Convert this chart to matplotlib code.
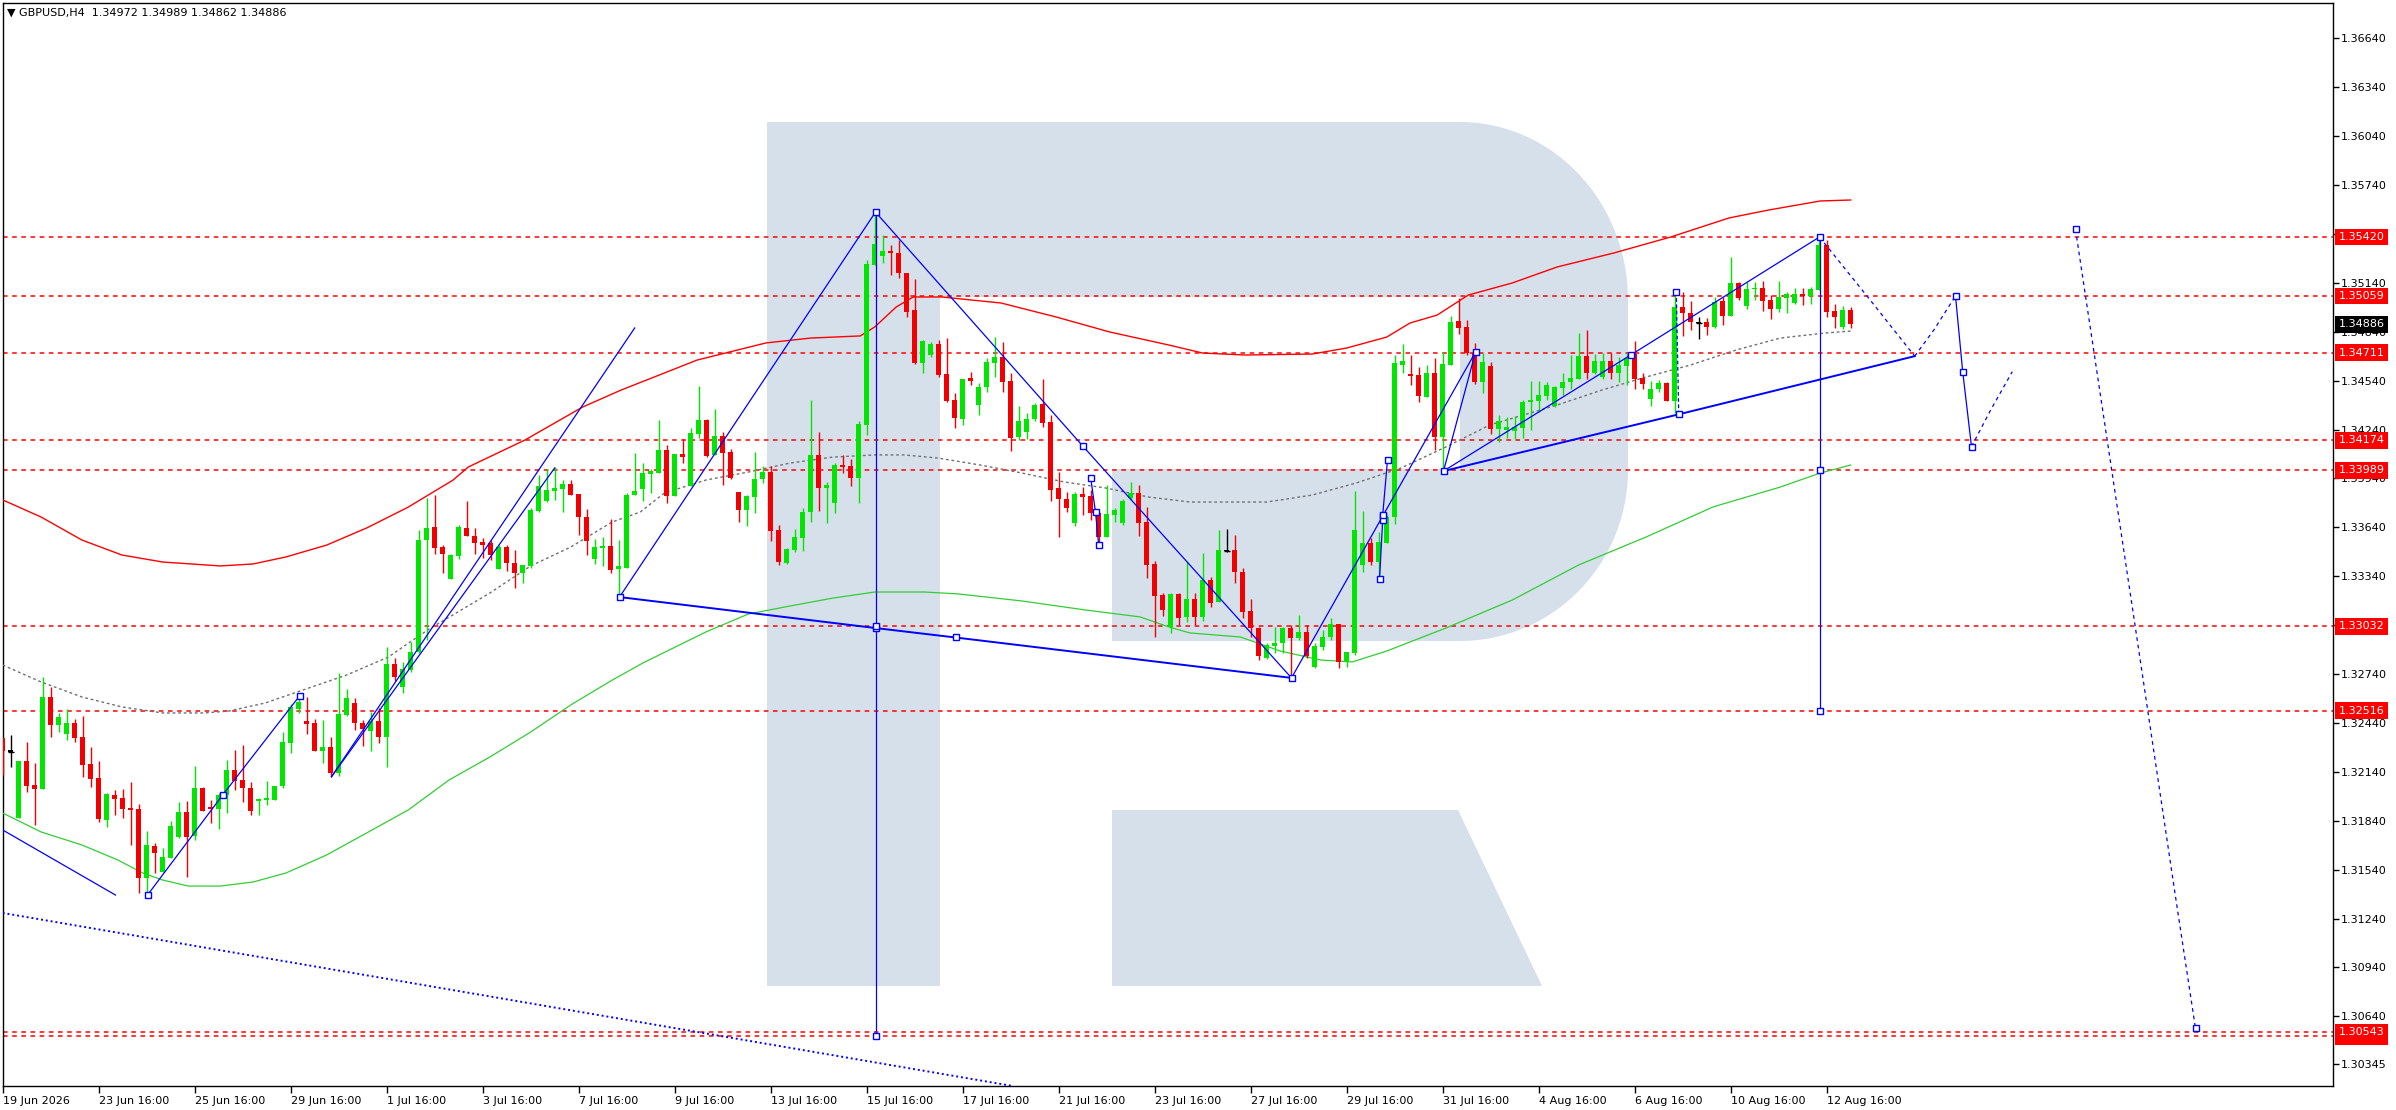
import matplotlib
matplotlib.use('Agg')

import numpy as np
import matplotlib.pyplot as plt
from matplotlib.patches import Polygon

plt.rcParams['font.family'] = ['DejaVu Sans']

# ---------------- candles (H4, one per index) ----------------
opens = [
    1.32345, 1.32264, 1.31859, 1.32206, 1.32059, 1.32034, 1.32597, 1.32427, 1.32372, 1.32437,
    1.32352, 1.32186, 1.32100, 1.31844, 1.31998, 1.31977, 1.31916, 1.31910, 1.31486, 1.31685,
    1.31527, 1.31609, 1.31742, 1.31893, 1.31746, 1.32041, 1.31922, 1.31912, 1.31998, 1.32151,
    1.32090, 1.32039, 1.31963, 1.31967, 1.31967, 1.32055, 1.32317, 1.32525, 1.32452, 1.32437,
    1.32270, 1.32290, 1.32135, 1.32489, 1.32560, 1.32437, 1.32392, 1.32454, 1.32352, 1.32801,
    1.32658, 1.32765, 1.32877, 1.33562, 1.33640, 1.33521, 1.33323, 1.33464, 1.33634, 1.33587,
    1.33552, 1.33542, 1.33384, 1.33521, 1.33419, 1.33358, 1.33403, 1.33740, 1.33803, 1.33863,
    1.33875, 1.33906, 1.33844, 1.33703, 1.33446, 1.33513, 1.33525, 1.33384, 1.33390, 1.33838,
    1.33875, 1.33967, 1.33973, 1.34114, 1.33832, 1.34090, 1.33893, 1.34212, 1.34298, 1.34083,
    1.34200, 1.34102, 1.33857, 1.33746, 1.33826, 1.33936, 1.33979, 1.33623, 1.33421, 1.33501,
    1.33574, 1.33734, 1.34084, 1.33881, 1.33789, 1.34022, 1.34016, 1.33942, 1.34268, 1.35249,
    1.35306, 1.35335, 1.35323, 1.35200, 1.34973, 1.34648, 1.34697, 1.34764, 1.34581, 1.34421,
    1.34304, 1.34556, 1.34390, 1.34501, 1.34648, 1.34685, 1.34538, 1.34194, 1.34225, 1.34304,
    1.34396, 1.34286, 1.33881, 1.33814, 1.33666, 1.33844, 1.33832, 1.33728, 1.33581, 1.33715,
    1.33666, 1.33820, 1.33850, 1.33673, 1.33415, 1.33225, 1.33028, 1.33231, 1.33090, 1.33200,
    1.33090, 1.33317, 1.33182, 1.33495, 1.33501, 1.33366, 1.33127, 1.33022, 1.32838, 1.32912,
    1.32930, 1.33022, 1.32961, 1.32998, 1.32783, 1.32906, 1.32967, 1.33047, 1.32820, 1.32869,
    1.33409, 1.33544, 1.33427, 1.33544, 1.33703, 1.34636, 1.34581, 1.34574, 1.34439, 1.34587,
    1.34194, 1.34636, 1.34906, 1.34869, 1.34709, 1.34531, 1.34630, 1.34243, 1.34237, 1.34231,
    1.34249, 1.34409, 1.34415, 1.34446, 1.34384, 1.34494, 1.34531, 1.34550, 1.34691, 1.34587,
    1.34562, 1.34660, 1.34587, 1.34630, 1.34703, 1.34556, 1.34427, 1.34489, 1.34525, 1.34415,
    1.34992, 1.34955, 1.34893, 1.34900, 1.34869, 1.35028, 1.34936, 1.35139, 1.34998, 1.35102,
    1.35108, 1.35034, 1.34979, 1.35047, 1.35016, 1.35071, 1.35059, 1.35096, 1.35372, 1.34967,
    1.34869, 1.34972]

highs = [
    1.32350, 1.32366, 1.32206, 1.32321, 1.32192, 1.32719, 1.32662, 1.32499, 1.32523, 1.32464,
    1.32482, 1.32294, 1.32206, 1.32012, 1.32028, 1.32032, 1.32077, 1.31942, 1.31779, 1.31701,
    1.31670, 1.31840, 1.31955, 1.31963, 1.32176, 1.32049, 1.31967, 1.32008, 1.32212, 1.32274,
    1.32304, 1.32080, 1.31977, 1.32084, 1.32053, 1.32386, 1.32556, 1.32605, 1.32601, 1.32462,
    1.32458, 1.32356, 1.32748, 1.32646, 1.32590, 1.32458, 1.32509, 1.32533, 1.32904, 1.32836,
    1.32816, 1.32938, 1.33623, 1.33818, 1.33838, 1.33531, 1.33476, 1.33654, 1.33801, 1.33634,
    1.33572, 1.33562, 1.33531, 1.33531, 1.33501, 1.33409, 1.33756, 1.33961, 1.33998, 1.34010,
    1.33930, 1.33930, 1.33844, 1.33752, 1.33568, 1.33580, 1.33691, 1.33562, 1.33850, 1.34096,
    1.34034, 1.33998, 1.34298, 1.34145, 1.34090, 1.34182, 1.34249, 1.34507, 1.34304, 1.34366,
    1.34225, 1.34120, 1.33857, 1.33838, 1.34102, 1.34016, 1.34016, 1.33654, 1.33513, 1.33630,
    1.33758, 1.34421, 1.34225, 1.33918, 1.34034, 1.34084, 1.34059, 1.34292, 1.35280, 1.35570,
    1.35433, 1.35372, 1.35403, 1.35200, 1.35163, 1.34789, 1.34777, 1.34789, 1.34801, 1.34464,
    1.34550, 1.34593, 1.34525, 1.34679, 1.34807, 1.34777, 1.34587, 1.34384, 1.34341, 1.34403,
    1.34550, 1.34329, 1.33979, 1.33857, 1.33857, 1.33887, 1.33869, 1.33734, 1.33900, 1.33758,
    1.33814, 1.33918, 1.33900, 1.33764, 1.33434, 1.33237, 1.33237, 1.33237, 1.33434, 1.33237,
    1.33482, 1.33335, 1.33624, 1.33630, 1.33593, 1.33390, 1.33200, 1.33028, 1.32930, 1.33028,
    1.33028, 1.33041, 1.33102, 1.33041, 1.32930, 1.33010, 1.33084, 1.33047, 1.32875, 1.33863,
    1.33740, 1.33575, 1.33611, 1.33715, 1.34697, 1.34764, 1.34697, 1.34623, 1.34636, 1.34679,
    1.34716, 1.34936, 1.35047, 1.34912, 1.34771, 1.34709, 1.34654, 1.34329, 1.34317, 1.34323,
    1.34421, 1.34538, 1.34538, 1.34531, 1.34507, 1.34587, 1.34697, 1.34832, 1.34850, 1.34703,
    1.34709, 1.34709, 1.34685, 1.34709, 1.34783, 1.34587, 1.34538, 1.34544, 1.34531, 1.35084,
    1.35084, 1.35028, 1.34930, 1.34924, 1.35053, 1.35053, 1.35298, 1.35145, 1.35145, 1.35145,
    1.35151, 1.35065, 1.35151, 1.35084, 1.35108, 1.35108, 1.35114, 1.35421, 1.35403, 1.35010,
    1.34998, 1.34989]

lows = [
    1.32120, 1.32167, 1.31855, 1.32018, 1.31814, 1.32034, 1.32356, 1.32382, 1.32335, 1.32325,
    1.32106, 1.32049, 1.31830, 1.31803, 1.31875, 1.31854, 1.31691, 1.31394, 1.31384, 1.31517,
    1.31527, 1.31609, 1.31732, 1.31492, 1.31721, 1.31901, 1.31824, 1.31787, 1.31885, 1.32028,
    1.31957, 1.31875, 1.31875, 1.31936, 1.31967, 1.32039, 1.32253, 1.32499, 1.32372, 1.32270,
    1.32192, 1.32106, 1.32114, 1.32482, 1.32396, 1.32300, 1.32270, 1.32319, 1.32171, 1.32697,
    1.32625, 1.32750, 1.32867, 1.32949, 1.33476, 1.33362, 1.33323, 1.33448, 1.33587, 1.33476,
    1.33450, 1.33439, 1.33382, 1.33374, 1.33270, 1.33300, 1.33388, 1.33734, 1.33795, 1.33808,
    1.33734, 1.33838, 1.33593, 1.33470, 1.33415, 1.33403, 1.33360, 1.33218, 1.33390, 1.33838,
    1.33801, 1.33850, 1.33973, 1.33789, 1.33832, 1.34034, 1.33893, 1.34188, 1.34071, 1.34083,
    1.33900, 1.33936, 1.33673, 1.33648, 1.33728, 1.33912, 1.33556, 1.33409, 1.33415, 1.33488,
    1.33495, 1.33673, 1.33740, 1.33666, 1.33728, 1.33973, 1.33893, 1.33789, 1.34206, 1.35249,
    1.35262, 1.35188, 1.35170, 1.34930, 1.34642, 1.34587, 1.34685, 1.34562, 1.34409, 1.34249,
    1.34268, 1.34513, 1.34329, 1.34470, 1.34562, 1.34470, 1.34108, 1.34176, 1.34182, 1.34292,
    1.34255, 1.33801, 1.33581, 1.33734, 1.33648, 1.33715, 1.33685, 1.33550, 1.33581, 1.33673,
    1.33654, 1.33808, 1.33587, 1.33329, 1.32967, 1.33096, 1.32992, 1.33041, 1.33059, 1.33041,
    1.33065, 1.33151, 1.33182, 1.33488, 1.33298, 1.33084, 1.32967, 1.32826, 1.32832, 1.32869,
    1.32869, 1.32722, 1.32949, 1.32838, 1.32777, 1.32887, 1.32949, 1.32777, 1.32783, 1.32857,
    1.33366, 1.33409, 1.33323, 1.33544, 1.33660, 1.34587, 1.34513, 1.34409, 1.34439, 1.34114,
    1.33992, 1.34636, 1.34826, 1.34697, 1.34519, 1.34464, 1.34212, 1.34163, 1.34188, 1.34182,
    1.34188, 1.34237, 1.34347, 1.34421, 1.34378, 1.34452, 1.34489, 1.34550, 1.34550, 1.34581,
    1.34550, 1.34550, 1.34531, 1.34513, 1.34489, 1.34489, 1.34384, 1.34470, 1.34415, 1.34341,
    1.34814, 1.34850, 1.34795, 1.34820, 1.34863, 1.34881, 1.34936, 1.35034, 1.34979, 1.35034,
    1.34967, 1.34918, 1.34961, 1.34955, 1.35010, 1.35004, 1.35010, 1.35096, 1.34930, 1.34863,
    1.34857, 1.34862]

closes = [
    1.32270, 1.32264, 1.32206, 1.32055, 1.32034, 1.32597, 1.32427, 1.32476, 1.32437, 1.32349,
    1.32182, 1.32096, 1.31850, 1.32004, 1.31973, 1.31912, 1.31906, 1.31486, 1.31691, 1.31644,
    1.31615, 1.31807, 1.31893, 1.31742, 1.32041, 1.31901, 1.31910, 1.31998, 1.32151, 1.32086,
    1.32043, 1.31901, 1.31971, 1.31977, 1.32053, 1.32321, 1.32535, 1.32570, 1.32433, 1.32270,
    1.32290, 1.32135, 1.32495, 1.32590, 1.32441, 1.32401, 1.32454, 1.32352, 1.32801, 1.32724,
    1.32769, 1.32877, 1.33562, 1.33634, 1.33511, 1.33476, 1.33470, 1.33640, 1.33587, 1.33542,
    1.33531, 1.33470, 1.33521, 1.33419, 1.33362, 1.33409, 1.33746, 1.33893, 1.33869, 1.33881,
    1.33906, 1.33838, 1.33703, 1.33556, 1.33519, 1.33525, 1.33378, 1.33403, 1.33838, 1.33863,
    1.33973, 1.33985, 1.34114, 1.33832, 1.34090, 1.34071, 1.34219, 1.34298, 1.34077, 1.34200,
    1.34096, 1.33942, 1.33746, 1.33832, 1.33936, 1.33979, 1.33617, 1.33427, 1.33507, 1.33581,
    1.33734, 1.34084, 1.33881, 1.33899, 1.34022, 1.34010, 1.33942, 1.34274, 1.35255, 1.35378,
    1.35335, 1.35323, 1.35200, 1.34961, 1.34648, 1.34783, 1.34764, 1.34574, 1.34415, 1.34311,
    1.34550, 1.34538, 1.34501, 1.34654, 1.34685, 1.34531, 1.34188, 1.34292, 1.34304, 1.34390,
    1.34280, 1.33869, 1.33814, 1.33758, 1.33844, 1.33826, 1.33728, 1.33581, 1.33722, 1.33746,
    1.33801, 1.33850, 1.33666, 1.33409, 1.33219, 1.33133, 1.33231, 1.33084, 1.33200, 1.33090,
    1.33317, 1.33176, 1.33501, 1.33495, 1.33366, 1.33120, 1.33022, 1.32850, 1.32918, 1.32930,
    1.33022, 1.32961, 1.32998, 1.32850, 1.32912, 1.32967, 1.33047, 1.32814, 1.32875, 1.33623,
    1.33544, 1.33427, 1.33550, 1.33703, 1.34648, 1.34660, 1.34568, 1.34446, 1.34587, 1.34194,
    1.34642, 1.34900, 1.34863, 1.34709, 1.34531, 1.34654, 1.34243, 1.34292, 1.34255, 1.34255,
    1.34409, 1.34421, 1.34452, 1.34513, 1.34501, 1.34531, 1.34556, 1.34691, 1.34587, 1.34660,
    1.34660, 1.34587, 1.34636, 1.34679, 1.34550, 1.34519, 1.34489, 1.34525, 1.34415, 1.34992,
    1.34955, 1.34900, 1.34893, 1.34869, 1.35022, 1.34936, 1.35139, 1.35047, 1.35102, 1.35108,
    1.35028, 1.34979, 1.35053, 1.35071, 1.35071, 1.35059, 1.35102, 1.35372, 1.34961, 1.34930,
    1.34973, 1.34886]

# ---------------- envelope lines (bar index, price) ----------------
upper_idx = [0, 4.8, 9.9, 14.9, 20.0, 27.2, 31.3, 35.4, 40.5, 45.5, 50.7, 56.3, 58.2, 65.3,
             72.5, 77.3, 86.8, 95.4, 101.0, 107.2, 109.0, 111.7, 113.8, 117.4, 124.8, 131.7,
             138.4, 145.8, 150.0, 155.3, 163.7, 168.0, 173.0, 175.9, 179.3, 183.2, 188.7,
             194.3, 201.4, 208.5, 215.8, 220.8, 227.2, 231]
upper_val = [1.33808, 1.33703, 1.33562, 1.33470, 1.33427, 1.33403, 1.33415, 1.33458, 1.33531,
             1.33636, 1.33764, 1.33930, 1.34010, 1.34176, 1.34378, 1.34482, 1.34666, 1.34771,
             1.34801, 1.34814, 1.34869, 1.34992, 1.35053, 1.35053, 1.35016, 1.34930, 1.34838,
             1.34758, 1.34709, 1.34697, 1.34703, 1.34740, 1.34807, 1.34893, 1.34942, 1.35065,
             1.35139, 1.35237, 1.35323, 1.35421, 1.35538, 1.35587, 1.35642, 1.35648]

lower_idx = [0, 4.8, 9.9, 14.4, 17.5, 20.0, 23.2, 27.2, 31.3, 35.4, 40.5, 45.5, 50.7, 55.8,
             60.9, 66.0, 71.0, 76.2, 80.0, 87.9, 93.2, 98.4, 103.8, 109.0, 115.3, 119.5,
             127.4, 135.3, 142.2, 145.8, 148.4, 154.7, 159.7, 164.7, 168.7, 173.0, 180.4,
             188.7, 197.0, 205.4, 213.8, 222.2, 227.2, 231]
lower_val = [1.31887, 1.31771, 1.31691, 1.31599, 1.31519, 1.31476, 1.31439, 1.31439, 1.31464,
             1.31519, 1.31630, 1.31765, 1.31906, 1.32090, 1.32231, 1.32384, 1.32550, 1.32703,
             1.32807, 1.32998, 1.33108, 1.33157, 1.33206, 1.33243, 1.33243, 1.33231, 1.33188,
             1.33133, 1.33090, 1.33028, 1.32992, 1.32967, 1.32881, 1.32826, 1.32814, 1.32881,
             1.33022, 1.33194, 1.33409, 1.33580, 1.33765, 1.33887, 1.33973, 1.34022]

middle_idx = [0, 4.8, 9.9, 14.9, 20.0, 25.2, 28.3, 32.8, 37.9, 43.0, 48.2, 53.3, 60.9, 66.0,
              71.0, 76.2, 79.7, 82.7, 87.9, 93.2, 98.4, 103.8, 109.0, 112.7, 116.9, 122.2,
              127.4, 132.7, 137.9, 143.2, 148.4, 158.0, 163.7, 169.2, 174.8, 180.4, 185.9,
              194.3, 199.9, 205.4, 211.0, 216.7, 222.2, 227.8, 231]
middle_val = [1.32795, 1.32691, 1.32599, 1.32538, 1.32501, 1.32501, 1.32513, 1.32562, 1.32648,
              1.32734, 1.32844, 1.33016, 1.33237, 1.33403, 1.33519, 1.33673, 1.33734, 1.33850,
              1.33930, 1.33979, 1.34034, 1.34071, 1.34084, 1.34084, 1.34065, 1.34022, 1.33973,
              1.33918, 1.33881, 1.33826, 1.33795, 1.33795, 1.33838, 1.33912, 1.34004, 1.34133,
              1.34268, 1.34390, 1.34482, 1.34562, 1.34636, 1.34728, 1.34801, 1.34832, 1.34844]

# ---------------- horizontal levels ----------------
levels = [1.35420, 1.35059, 1.34711, 1.34174, 1.33989, 1.33032, 1.32516, 1.30517, 1.30543]
current_price = 1.34886

# ---------------- axes ticks ----------------
price_ticks = [1.36640, 1.36340, 1.36040, 1.35740, 1.35440, 1.35140, 1.34840, 1.34540,
               1.34240, 1.33940, 1.33640, 1.33340, 1.33040, 1.32740, 1.32440, 1.32140,
               1.31840, 1.31540, 1.31240, 1.30940, 1.30640, 1.30345]
date_labels = ['19 Jun 2026', '23 Jun 16:00', '25 Jun 16:00', '29 Jun 16:00', '1 Jul 16:00',
               '3 Jul 16:00', '7 Jul 16:00', '9 Jul 16:00', '13 Jul 16:00', '15 Jul 16:00',
               '17 Jul 16:00', '21 Jul 16:00', '23 Jul 16:00', '27 Jul 16:00', '29 Jul 16:00',
               '31 Jul 16:00', '4 Aug 16:00', '6 Aug 16:00', '10 Aug 16:00', '12 Aug 16:00']
date_idx = [12 * k for k in range(len(date_labels))]

# ---------------- analyst drawings (bar index, price) ----------------
short_line = ([0, 14.1], [1.31783, 1.31384])
long_dotted = ([0, 126.3], [1.31274, 1.30212])
wave_a = ([18.1, 27.5, 37.1], [1.31384, 1.31998, 1.32605])
fan_1 = ([41.1, 79.0], [1.32110, 1.34863])
fan_2 = ([41.1, 69.0], [1.32110, 1.34004])
tri_left = ([77.1, 109.1], [1.33212, 1.35574])
tri_right = ([109.1, 135.0, 161.1], [1.35574, 1.34139, 1.32716])
tri_base = ([77.1, 109.1, 119.1, 161.1], [1.33212, 1.33022, 1.32964, 1.32716])
tri_vert = ([109.1, 109.1, 109.1], [1.35574, 1.33032, 1.30517])
tick_1 = ([136.0, 136.6, 137.0], [1.33943, 1.33734, 1.33531])
wave_b = ([161.1, 172.5, 184.1, 180.1], [1.32716, 1.33709, 1.34715, 1.33985])
tick_2 = ([172.1, 172.5, 172.5, 173.1], [1.33321, 1.33685, 1.33715, 1.34053])
chan_top = ([180.1, 203.5, 227.1], [1.33985, 1.34697, 1.35421])
chan_bot = ([180.1, 209.5, 239.0], [1.33985, 1.34333, 1.34690])
tick_3 = ([209.2, 209.5], [1.35084, 1.34335])
peak_vert = ([227.1, 227.1, 227.1], [1.35421, 1.33989, 1.32516])
fc_1 = ([227.1, 233.1, 239.0], [1.35421, 1.35055, 1.34690])
fc_2 = ([239.0, 241.4, 244.1], [1.34690, 1.34851, 1.35059])
fc_3 = ([244.1, 245.0, 246.1], [1.35059, 1.34595, 1.34135])
fc_4 = ([246.1, 248.5, 251.2], [1.34135, 1.34360, 1.34595])
fc_5 = ([259.1, 266.6, 271.6, 274.1], [1.35468, 1.33020, 1.31374, 1.30566])

# ---------------- figure ----------------
W, H = 2396, 1110
fig = plt.figure(figsize=(W / 100, H / 100), dpi=100)

# watermark logo drawn in picture pixels behind the chart
wm = fig.add_axes([0, 0, 1, 1], zorder=0)
wm.set_xlim(0, W)
wm.set_ylim(H, 0)
wm.axis('off')
t_top = np.linspace(-np.pi / 2, 0, 40)
t_bot = np.linspace(0, np.pi / 2, 40)
bowl = [(767, 122)]
bowl += [(1460 + 168 * np.cos(t), 300 + 178 * np.sin(t)) for t in t_top]
bowl += [(1460 + 168 * np.cos(t), 470 + 171 * np.sin(t)) for t in t_bot]
bowl += [(1112, 641), (1112, 469), (1460, 469), (1460, 297), (940, 297), (940, 986), (767, 986)]
wm_color = '#d6e0eb'
wm.add_patch(Polygon(bowl, closed=True, fc=wm_color, ec='none'))
wm.add_patch(Polygon([(1112, 810), (1458, 810), (1542, 986), (1112, 986)], closed=True,
                     fc=wm_color, ec='none'))

ax = fig.add_axes([2.5 / W, 24 / H, 2330 / W, 1083 / H], zorder=1)
ax.set_facecolor('none')
ax.set_xlim(-0.025, -0.025 + 2330 / 8)
ax.set_ylim(1.302124, 1.368566)

# red dashed levels
for lev in levels:
    ax.axhline(lev, color='#ff0000', lw=1.1, ls=(0, (3, 3)), zorder=2)

# envelope
ax.plot(upper_idx, upper_val, color='#ff0000', lw=1.0, zorder=3)
ax.plot(lower_idx, lower_val, color='#32cd32', lw=0.9, zorder=3)
ax.plot(middle_idx, middle_val, color='#707070', lw=1.0, ls=(0, (2, 2)), zorder=3)

# candles
o = np.array(opens)
h = np.array(highs)
l = np.array(lows)
c = np.array(closes)
x = np.arange(len(c))
cols = np.where(c > o, '#00e600', np.where(c < o, '#f00000', '#000000'))
ax.vlines(x, l, h, colors=cols, lw=1.0, zorder=4)
body_lo = np.minimum(o, c)
body_h = np.maximum(np.abs(c - o), 0.00007)
ax.bar(x, body_h, bottom=body_lo, width=0.62, color=cols, linewidth=0, zorder=4)
doji = c == o
ax.hlines(c[doji], x[doji] - 0.4, x[doji] + 0.4, colors='black', lw=1.0, zorder=5)

# analyst drawings
BLUE = '#0000ff'


def draw(line, ls='-', lw=0.9, marks=()):
    xs, ys = line
    ax.plot(xs, ys, color=BLUE, ls=ls, lw=lw, zorder=6)
    if marks:
        ax.plot([xs[i] for i in marks], [ys[i] for i in marks], ls='none', marker='s',
                ms=4, mfc='white', mec=BLUE, mew=1.0, zorder=7)


draw(short_line)
draw(long_dotted, ls=(0, (1, 1.5)), lw=1.4)
draw(wave_a, marks=(0, 1, 2))
draw(fan_1)
draw(fan_2)
draw(tri_left)
draw(tri_right, marks=(0, 1, 2))
draw(tri_base, lw=1.4, marks=(0, 1, 2))
draw(tri_vert, marks=(1, 2))
draw(tick_1, marks=(0, 1, 2))
draw(wave_b, marks=(1, 2, 3))
draw(tick_2, marks=(0, 1, 2, 3))
draw(chan_top, marks=(1, 2))
draw(chan_bot, lw=1.4, marks=(1,))
draw(tick_3, ls=(0, (3, 2)), marks=(0,))
draw(peak_vert, marks=(1, 2))
draw(fc_1, ls=(0, (3, 3)), lw=0.9)
draw(fc_2, ls=(0, (3, 3)), lw=0.9, marks=(2,))
draw(fc_3, marks=(1, 2))
draw(fc_4, ls=(0, (3, 3)), lw=0.9)
draw(fc_5, ls=(0, (3, 3)), lw=0.9, marks=(0, 3))

# price axis on the right
ax.yaxis.tick_right()
ax.set_yticks(price_ticks)
ax.set_yticklabels(['%.5f' % v for v in price_ticks])
ax.tick_params(axis='y', direction='out', length=4, width=1, pad=2, labelsize=8,
               colors='black')

# time axis
ax.set_xticks(date_idx)
ax.set_xticklabels(date_labels, ha='left')
ax.tick_params(axis='x', direction='out', length=5, width=1, pad=2, labelsize=8,
               colors='black')

for sp in ax.spines.values():
    sp.set_color('black')
    sp.set_linewidth(1.0)

# level tags on the price axis
yt = ax.get_yaxis_transform()
for lev in levels:
    ax.text(1.0 + 6 / 2330, lev, '%.5f' % lev, transform=yt, ha='left', va='center',
            fontsize=8, color='white', clip_on=False, zorder=10,
            bbox=dict(boxstyle='square,pad=0.3', fc='#ff0000', ec='none'))
ax.text(1.0 + 6 / 2330, current_price, '%.5f' % current_price, transform=yt, ha='left',
        va='center', fontsize=8, color='white', clip_on=False, zorder=10,
        bbox=dict(boxstyle='square,pad=0.3', fc='#000000', ec='none'))

# header
fig.text(7 / W, 1 - 13 / H,
         '\u25bc GBPUSD,H4  %.5f %.5f %.5f %.5f' % (opens[-1], highs[-1], lows[-1], closes[-1]),
         fontsize=8, ha='left', va='center', color='black')

fig.savefig('out.png', dpi=100)
plt.close(fig)
